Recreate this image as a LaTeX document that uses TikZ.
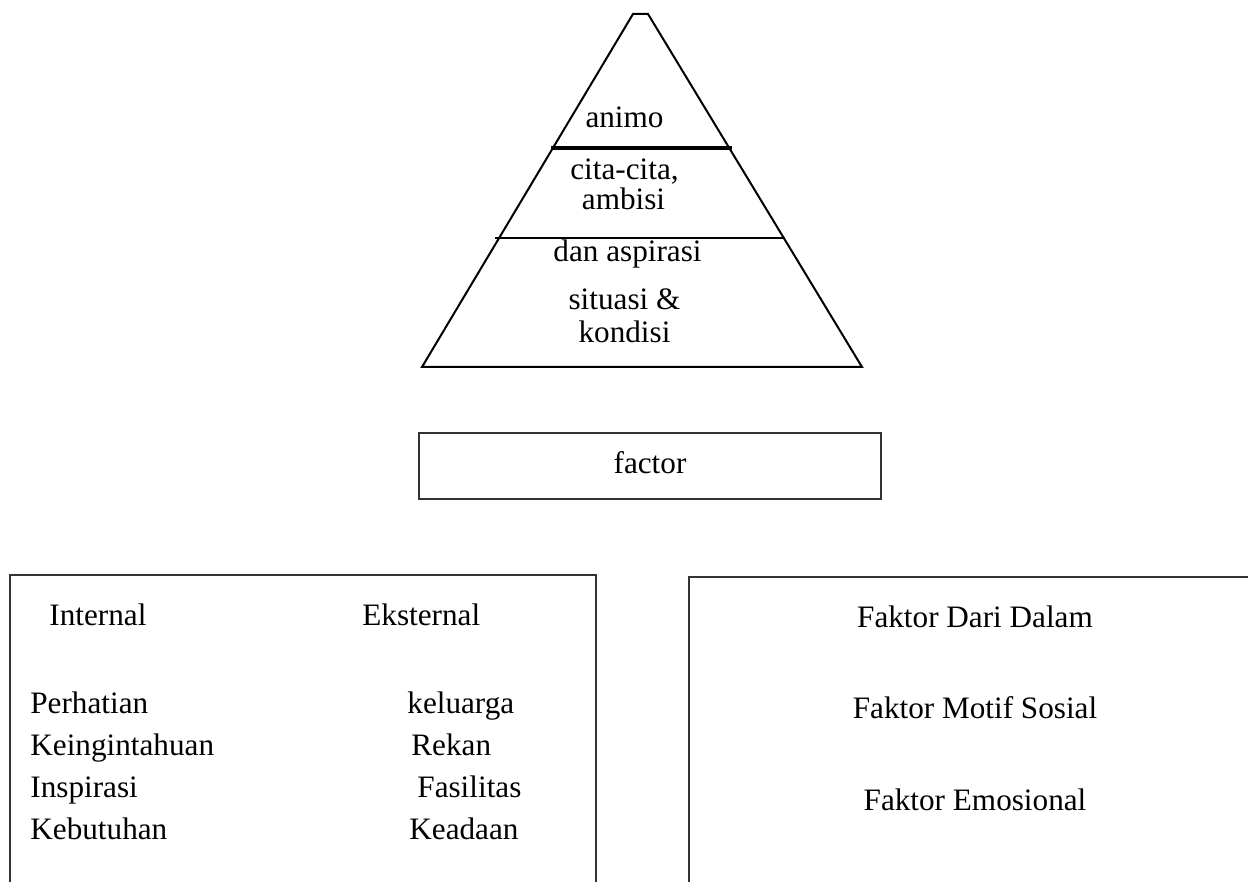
\documentclass[tikz,border=0pt]{standalone}
\usepackage{fontspec}
\setmainfont{Liberation Serif}
\usepackage{tikz}
\tikzset{
	txt/.style={inner sep=0pt, anchor=base, font=\fontsize{15.6}{18}\selectfont},
	txtw/.style={txt, anchor=base west},
	frame/.style={line width=0.6pt, color=black!80},
	pyr/.style={line width=1pt, line join=miter}
}

\begin{document}
\begin{tikzpicture}[x=0.5pt, y=-0.5pt]
		%%%%% START %%%%%
		\useasboundingbox (0, 0) rectangle (1248, 882);
		\clip (0, 0) rectangle (1248, 882);
		
		% pyramid
		\draw[pyr] (633, 14) -- (648, 14) -- (862, 367) -- (422, 367) -- cycle;
		\draw[line width=1.7pt] (551, 148) -- (732, 148);
		\draw[line width=1pt] (495, 238) -- (785, 238);
		
		\node[txt] (animo) at (624.5, 128) {animo};
		\node[txt] (cita) at (624.5, 180) {cita-cita,};
		\node[txt] (ambisi) at (623.5, 210) {ambisi};
		\node[txt] (aspirasi) at (627.5, 262) {dan aspirasi};
		\node[txt] (situasi) at (624.5, 310) {situasi \&};
		\node[txt] (kondisi) at (624.5, 343) {kondisi};
		
		% factor
		\draw[frame] (419, 433) rectangle (881, 499);
		\node[txt] (factor) at (650, 473) {factor};
		
		% internal / eksternal
		\draw[frame] (10, 575) rectangle (596, 900);
		\node[txtw] (internal) at (49, 625) {Internal};
		\node[txtw] (eksternal) at (362, 625) {Eksternal};
		
		\node[txtw] (perhatian) at (30, 713) {Perhatian};
		\node[txtw] (ingintahu) at (30, 755) {Keingintahuan};
		\node[txtw] (inspirasi) at (30, 797) {Inspirasi};
		\node[txtw] (butuh) at (30, 839) {Kebutuhan};
		
		\node[txtw] (keluarga) at (407, 713) {keluarga};
		\node[txtw] (rekan) at (411, 755) {Rekan};
		\node[txtw] (fasilitas) at (417, 797) {Fasilitas};
		\node[txtw] (keadaan) at (409, 839) {Keadaan};
		
		% faktor
		\draw[frame] (689, 577) rectangle (1270, 900);
		\node[txt] (dalam) at (975, 627) {Faktor Dari Dalam};
		\node[txt] (sosial) at (975, 718) {Faktor Motif Sosial};
		\node[txt] (emosi) at (975, 810) {Faktor Emosional};
		
		%%%%% END %%%%%
	\end{tikzpicture}
\end{document}
